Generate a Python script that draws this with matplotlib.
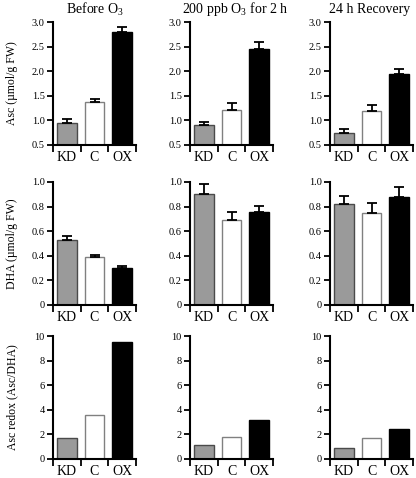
import matplotlib
matplotlib.use("Agg")
import matplotlib.pyplot as plt

plt.rcParams['font.family'] = ['Liberation Serif', 'DejaVu Serif']
plt.rcParams['mathtext.fontset'] = 'custom'
plt.rcParams['mathtext.rm'] = 'Liberation Serif'

# data
lines = ["KD", "C", "OX"]
titles = [r"Before O$_\mathrm{3}$", r"200 ppb O$_\mathrm{3}$ for 2 h", "24 h Recovery"]
ylabels = [u"Asc (\u00b5mol/g FW)", u"DHA (\u00b5mol/g FW)", "Asc redox (Asc/DHA)"]

asc = [[0.95, 1.37, 2.79], [0.91, 1.21, 2.46], [0.74, 1.19, 1.94]]
asc_err = [[0.07, 0.06, 0.11], [0.06, 0.14, 0.14], [0.08, 0.13, 0.11]]
dha = [[0.525, 0.388, 0.30], [0.90, 0.688, 0.755], [0.818, 0.75, 0.878]]
dha_err = [[0.035, 0.019, 0.017], [0.085, 0.068, 0.05], [0.065, 0.08, 0.082]]
redox = [[1.74, 3.6, 9.5], [1.14, 1.76, 3.17], [0.92, 1.68, 2.47]]

yticks = [[0.5, 1.0, 1.5, 2.0, 2.5, 3.0], [0, 0.2, 0.4, 0.6, 0.8, 1.0], [0, 2, 4, 6, 8, 10]]
yticklabels = [["0.5", "1.0", "1.5", "2.0", "2.5", "3.0"],
               ["0", "0.2", "0.4", "0.6", "0.8", "1.0"],
               ["0", "2", "4", "6", "8", "10"]]
ylims = [(0.5, 3.0), (0, 1.0), (0, 10)]

fills = ["#9a9a9a", "white", "black"]
edges = ["#4a4a4a", "#808080", "black"]

W, H = 416, 478
fig = plt.figure(figsize=(W / 100, H / 100), dpi=100)

col_left = [53, 190, 330]
row_top = [22, 182, 336]
ax_w, ax_h = 83, 123

xpos = [0.5, 1.5, 2.5]
for r in range(3):
    vals = [asc, dha, redox][r]
    errs = [asc_err, dha_err, None][r]
    for c in range(3):
        ax = fig.add_axes([col_left[c] / W, 1 - (row_top[r] + ax_h) / H, ax_w / W, ax_h / H])
        lo = ylims[r][0]
        ax.bar(xpos, [v - lo for v in vals[c]], bottom=lo, width=0.72,
               color=fills, edgecolor=edges, linewidth=1.0, zorder=2)
        if errs is not None:
            ax.errorbar(xpos, vals[c], yerr=[[0, 0, 0], errs[c]], fmt='none',
                        ecolor='black', elinewidth=1.3, capsize=3.5, capthick=1.3, zorder=3)
        ax.set_xlim(0, 3)
        ax.set_ylim(*ylims[r])
        ax.set_yticks(yticks[r])
        ax.set_yticklabels(yticklabels[r], fontsize=7.5)
        ax.set_xticks([0, 1, 2, 3])
        ax.set_xticklabels([])
        ax.set_xticks(xpos, minor=True)
        ax.set_xticklabels(lines, minor=True, fontsize=10)
        ax.tick_params(axis='x', which='minor', length=0, pad=4)
        ax.tick_params(axis='x', which='major', length=5, width=1.3, direction='out')
        ax.tick_params(axis='y', length=4, width=1.3, direction='out', pad=2)
        for s in ['top', 'right']:
            ax.spines[s].set_visible(False)
        for s in ['left', 'bottom']:
            ax.spines[s].set_linewidth(1.5)
        ax.patch.set_alpha(0)
        if c == 0:
            fig.text(12 / W, 1 - (row_top[r] + ax_h / 2) / H, ylabels[r], rotation=90,
                     ha='center', va='center', fontsize=8.5)

title_x = [95, 235, 370]
for c in range(3):
    fig.text(title_x[c] / W, 1 - 9 / H, titles[c], ha='center', va='center', fontsize=10)

fig.savefig("out.png", dpi=100)
